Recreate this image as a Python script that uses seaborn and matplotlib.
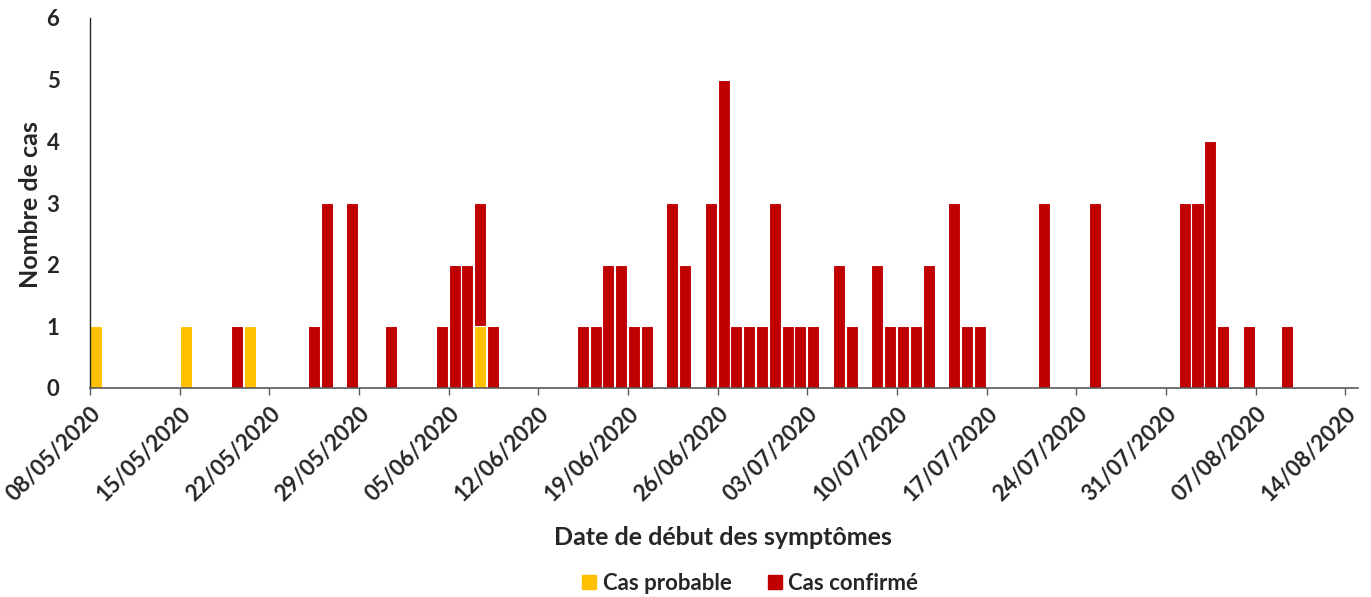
import pandas as pd
import numpy as np
import seaborn as sns
import matplotlib.pyplot as plt
from matplotlib.lines import Line2D

# Cases by symptom onset date
start = pd.Timestamp("2020-05-08")

prob_dates = ["08/05/2020", "15/05/2020", "20/05/2020", "07/06/2020"]
prob_counts = [1, 1, 1, 1]

conf_dates = ["19/05/2020", "25/05/2020", "26/05/2020", "28/05/2020", "31/05/2020",
              "04/06/2020", "05/06/2020", "06/06/2020", "07/06/2020", "08/06/2020",
              "15/06/2020", "16/06/2020", "17/06/2020", "18/06/2020", "19/06/2020",
              "20/06/2020", "22/06/2020", "23/06/2020", "25/06/2020", "26/06/2020",
              "27/06/2020", "28/06/2020", "29/06/2020", "30/06/2020", "01/07/2020",
              "02/07/2020", "03/07/2020", "05/07/2020", "06/07/2020", "08/07/2020",
              "09/07/2020", "10/07/2020", "11/07/2020", "12/07/2020", "14/07/2020",
              "15/07/2020", "16/07/2020", "21/07/2020", "25/07/2020", "01/08/2020",
              "02/08/2020", "03/08/2020", "04/08/2020", "06/08/2020", "09/08/2020"]
conf_counts = [1, 1, 3, 3, 1,
               1, 2, 2, 2, 1,
               1, 1, 2, 2, 1,
               1, 3, 2, 3, 5,
               1, 1, 1, 3, 1,
               1, 1, 2, 1, 2,
               1, 1, 1, 2, 3,
               1, 1, 3, 3, 3,
               3, 4, 1, 1, 1]

tick_labels = ["08/05/2020", "15/05/2020", "22/05/2020", "29/05/2020", "05/06/2020",
               "12/06/2020", "19/06/2020", "26/06/2020", "03/07/2020", "10/07/2020",
               "17/07/2020", "24/07/2020", "31/07/2020", "07/08/2020", "14/08/2020"]

df = pd.concat([
    pd.DataFrame({"date": prob_dates, "n": prob_counts, "type": "Cas probable"}),
    pd.DataFrame({"date": conf_dates, "n": conf_counts, "type": "Cas confirmé"}),
], ignore_index=True)
df["day"] = (pd.to_datetime(df["date"], format="%d/%m/%Y") - start).dt.days

colors = {"Cas probable": "#FFC000", "Cas confirmé": "#C00000"}

sns.set_style("white")
plt.rcParams["font.family"] = ["Lato", "DejaVu Sans"]
plt.rcParams["font.weight"] = "bold"

fig = plt.figure(figsize=(13.71, 5.97), dpi=100)
ax = fig.add_axes([90 / 1371, 1 - 388 / 597, 1268 / 1371, 370 / 597])

sns.histplot(data=df, x="day", weights="n", hue="type",
             hue_order=["Cas confirmé", "Cas probable"], palette=colors,
             multiple="stack", binwidth=1, binrange=(-0.03, 98.97), shrink=0.94,
             edgecolor="white", linewidth=0.8, alpha=1, legend=False, ax=ax)

ax.set_xlim(0, 99)
ax.set_ylim(0, 6)
ax.set_yticks(range(7))
ax.tick_params(axis="y", length=0, labelsize=16, pad=22)
tick_days = [(pd.to_datetime(t, format="%d/%m/%Y") - start).days for t in tick_labels]
ax.set_xticks(tick_days)
ax.set_xticklabels(tick_labels, rotation=45, ha="right", rotation_mode="anchor")
ax.tick_params(axis="x", bottom=True, length=5, width=1, color="#595959", labelsize=16, pad=6)
for lab in ax.get_xticklabels() + ax.get_yticklabels():
    lab.set_fontweight("bold")

sns.despine(ax=ax)
ax.spines["left"].set_color("#262626")
ax.spines["bottom"].set_color("#595959")
ax.spines["left"].set_linewidth(1)
ax.spines["bottom"].set_linewidth(1.2)

ax.set_xlabel("Date de début des symptômes", fontsize=18, fontweight="bold")
ax.xaxis.set_label_coords(0.499, -0.405)
ax.xaxis.label.set_va("center")
ax.set_ylabel("Nombre de cas", fontsize=18, fontweight="bold")
ax.yaxis.set_label_coords(-0.047, 0.495)
ax.yaxis.label.set_va("center")

handles = [Line2D([], [], marker="s", linestyle="", markersize=10, color=colors[k])
           for k in ["Cas probable", "Cas confirmé"]]
fig.legend(handles, ["Cas probable", "Cas confirmé"], loc="center",
           bbox_to_anchor=(750 / 1371, 1 - 583 / 597), ncol=2, frameon=False,
           prop={"size": 16, "weight": "bold"}, handletextpad=0.25, columnspacing=1.6,
           handlelength=0.7)

fig.savefig("out.png", dpi=100)
